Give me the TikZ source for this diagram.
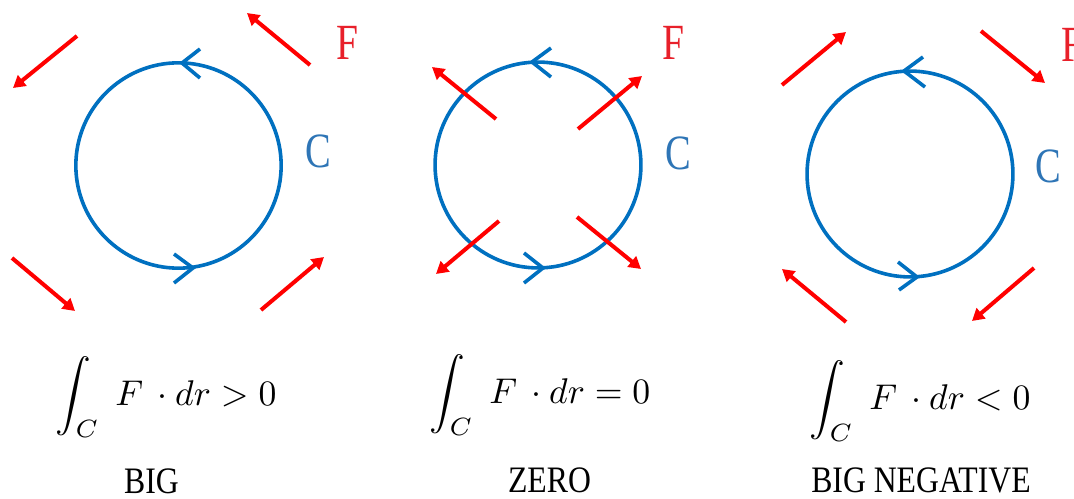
\documentclass[tikz,border=0pt]{standalone}
\usepackage{fontspec}
\newfontfamily\labfont{Liberation Serif}[FakeStretch=0.78]
\newfontfamily\txtfont{Liberation Serif}[FakeStretch=0.85]
\usetikzlibrary{arrows.meta}
\definecolor{cblue}{HTML}{0070C0}
\definecolor{clabel}{HTML}{2E75B6}
\definecolor{flabel}{HTML}{E8202A}
\begin{document}
\begin{tikzpicture}[x=0.75pt,y=-0.75pt,
  loop/.style={draw=cblue, line width=2.7pt},
  chev/.style={draw=cblue, line width=2.7pt, line join=miter},
  force/.style={draw=red, line width=3pt, -{Triangle[length=9pt,width=10pt]}},
  flab/.style={text=flabel, font=\labfont\fontsize{38}{40}\selectfont, anchor=base west, inner sep=0pt},
  clab/.style={text=clabel, font=\labfont\fontsize{37}{40}\selectfont, anchor=base west, inner sep=0pt},
  formula/.style={scale=2.68, transform shape, anchor=base west, inner sep=0pt},
  verdict/.style={font=\txtfont\fontsize{28}{32}\selectfont, anchor=base, inner sep=0pt, text depth=0pt}]
\clip (0,0) rectangle (1074,499);
\fill[white] (0,0) rectangle (1074,499);

% ---------- panel 1 : BIG ----------
\draw[loop] (178.5,165.5) circle[radius=77pt];
\draw[chev] (200,49) -- (182,63) -- (200,78);
\draw[chev] (174,254) -- (193,268) -- (174,283);
\coordinate (a1s) at (77,36);   \coordinate (a1t) at (13,88);
\coordinate (b1s) at (310,65);  \coordinate (b1t) at (247,13);
\coordinate (c1s) at (12,258);  \coordinate (c1t) at (75,311);
\coordinate (d1s) at (261,310); \coordinate (d1t) at (324,257);
\draw[force] (a1s) -- (a1t);
\draw[force] (b1s) -- (b1t);
\draw[force] (c1s) -- (c1t);
\draw[force] (d1s) -- (d1t);
\node[flab] (F1) at (336,60) {F};
\node[clab] (C1) at (305,167) {C};
\node[formula] (int1) at (55,405) {$\displaystyle\int_C\;F\,\cdot dr>0$};
\node[verdict] (v1) at (151.5,493) {BIG};

% ---------- panel 2 : ZERO ----------
\draw[loop] (538,165) circle[radius=77.2pt];
\draw[chev] (551,48) -- (532,62) -- (551,77);
\draw[chev] (524,253) -- (543,268) -- (524,283);
\coordinate (a2s) at (496,119); \coordinate (a2t) at (432,67);
\coordinate (b2s) at (578,129); \coordinate (b2t) at (642,76);
\coordinate (c2s) at (499,221); \coordinate (c2t) at (436,274);
\coordinate (d2s) at (577,217); \coordinate (d2t) at (641,269);
\draw[force] (a2s) -- (a2t);
\draw[force] (b2s) -- (b2t);
\draw[force] (c2s) -- (c2t);
\draw[force] (d2s) -- (d2t);
\node[flab] (F2) at (662,60) {F};
\node[clab] (C2) at (665,170) {C};
\node[formula] (int2) at (429,403) {$\displaystyle\int_C\;F\,\cdot dr=0$};
\node[verdict] (v2) at (549.5,492) {ZERO};

% ---------- panel 3 : BIG NEGATIVE ----------
\draw[loop] (910,174) circle[radius=77.2pt];
\draw[chev] (923,57) -- (904,71) -- (925,87);
\draw[chev] (898,262) -- (917,277) -- (899,290);
\coordinate (a3s) at (782,85);   \coordinate (a3t) at (846,32);
\coordinate (b3s) at (981,31);   \coordinate (b3t) at (1045,83);
\coordinate (c3s) at (846,322);  \coordinate (c3t) at (782,269);
\coordinate (d3s) at (1034,268); \coordinate (d3t) at (972,321);
\draw[force] (a3s) -- (a3t);
\draw[force] (b3s) -- (b3t);
\draw[force] (c3s) -- (c3t);
\draw[force] (d3s) -- (d3t);
\node[flab] (F3) at (1061,62) {F};
\node[clab] (C3) at (1035,183) {C};
\node[formula] (int3) at (809,409) {$\displaystyle\int_C\;F\,\cdot dr<0$};
\node[verdict] (v3) at (921,492.5) {BIG NEGATIVE};
\end{tikzpicture}
\end{document}
